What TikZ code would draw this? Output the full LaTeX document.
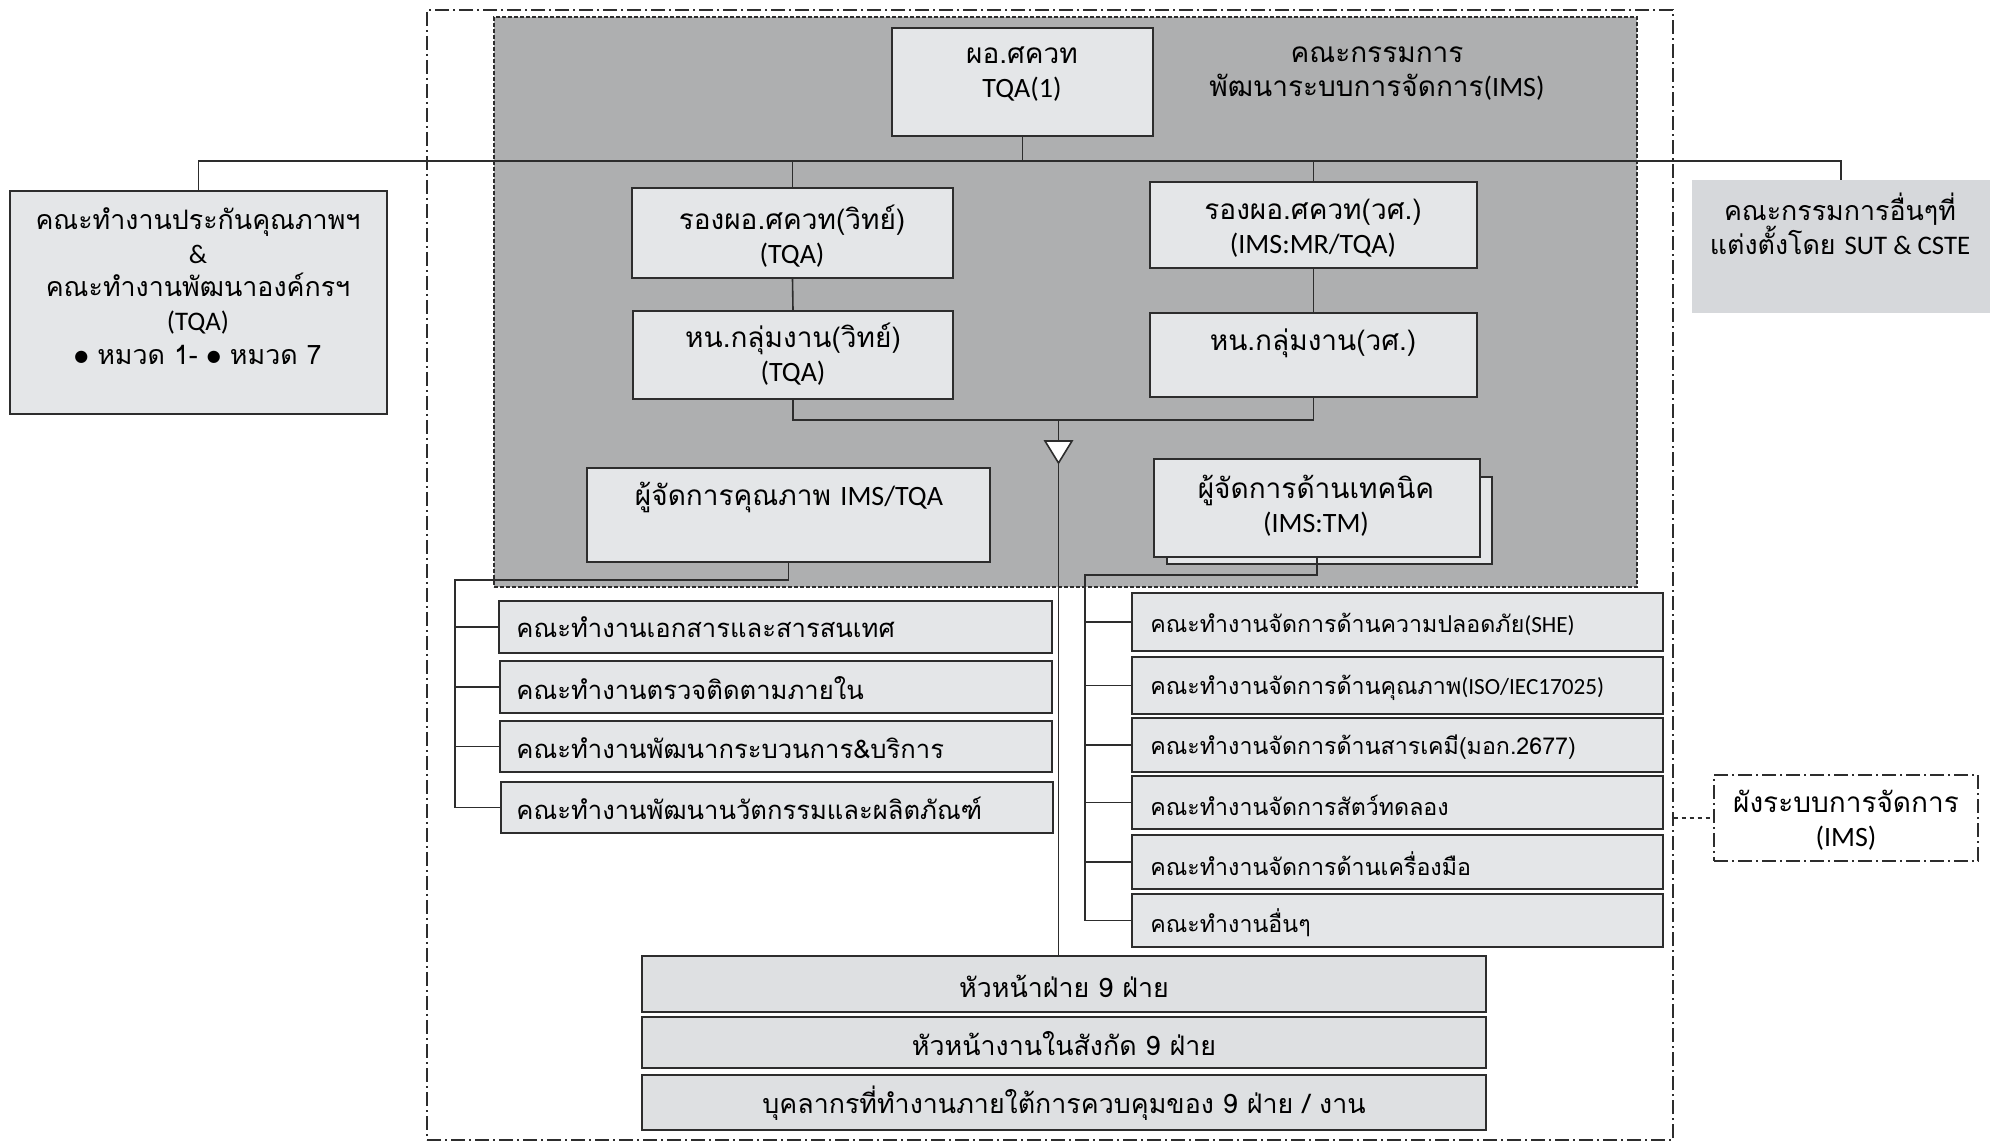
\documentclass[tikz,border=0pt]{standalone}
\usepackage{fontspec}
\setmainfont{Carlito}
\newfontfamily\tf[Script=Thai]{Loma}
\newfontfamily\djv{DejaVu Sans}
\usetikzlibrary{fit}
\definecolor{greybg}{RGB}{174,175,176}
\definecolor{boxfill}{RGB}{228,230,232}
\definecolor{boxfillB}{RGB}{222,224,226}
\definecolor{rfill}{RGB}{214,216,219}
\definecolor{linec}{RGB}{45,45,45}
\newcommand\la[1]{{\rmfamily #1}}
\newcommand\bul{\raisebox{1.2pt}{\djv\fontsize{8}{8}\selectfont ●}}
\begin{document}
\begin{tikzpicture}[x=0.5pt,y=-0.5pt,
  box/.style={draw=linec, line width=1.1pt, fill=boxfill, inner sep=0pt},
  boxB/.style={box, fill=boxfillB},
  conn/.style={draw=linec, line width=0.8pt},
  lbl/.style={inner sep=0pt, align=center, font=\tf\fontsize{14}{17}\selectfont},
  lstA/.style={inner sep=0pt, anchor=west, font=\tf\fontsize{12.8}{15}\selectfont},
  lstC/.style={inner sep=0pt, anchor=west, font=\tf\fontsize{11.6}{14}\selectfont},
  dashdot/.style={dash pattern=on 7pt off 2pt on 1pt off 2pt}
]
\useasboundingbox (0,0) rectangle (1998,1143);
\fill[white] (0,0) rectangle (1998,1143);

% outer frame and grey committee area
\node[draw=linec, line width=0.6pt, dashdot, inner sep=0pt, fit={(427,10) (1673,1140)}] (outer) {};
\node[draw=linec, line width=0.6pt, dash pattern=on 2pt off 1pt, fill=greybg, inner sep=0pt, fit={(494,17) (1637,587)}] (grey) {};

% boxes
\node[box, fit={(892,28) (1153,136)}] (top) {};
\node[box, fit={(10,191) (387,414)}] (L) {};
\node[draw=none, fill=rfill, inner sep=0pt, fit={(1692,180) (1990,313)}] (R) {};
\node[box, fit={(632,188) (953,278)}] (VL) {};
\node[box, fit={(633,311) (953,399)}] (HL) {};
\node[box, fit={(1150,182) (1477,268)}] (VR) {};
\node[box, fit={(1150,313) (1477,397)}] (HR) {};
\node[box, fit={(587,468) (990,562)}] (qm) {};
\node[box, fit={(1167,477) (1492,564)}] (tmb) {};
\node[box, fit={(1154,459) (1480,557)}] (tm) {};

\node[box, fit={(499,601) (1052,653)}] (A1) {};
\node[box, fit={(500,661) (1052,713)}] (A2) {};
\node[box, fit={(500,721) (1052,772)}] (A3) {};
\node[box, fit={(501,782) (1053,833)}] (A4) {};

\node[box, fit={(1132,593) (1663,651)}] (C1) {};
\node[box, fit={(1132,657) (1663,714)}] (C2) {};
\node[box, fit={(1132,718) (1663,772)}] (C3) {};
\node[box, fit={(1132,776) (1663,829)}] (C4) {};
\node[box, fit={(1132,835) (1663,889)}] (C5) {};
\node[box, fit={(1132,894) (1663,947)}] (C6) {};

\node[boxB, fit={(642,956) (1486,1012)}] (B1) {};
\node[boxB, fit={(642,1017) (1486,1068)}] (B2) {};
\node[boxB, fit={(642,1075) (1486,1130)}] (B3) {};

\node[draw=linec, line width=0.6pt, dashdot, inner sep=0pt, fit={(1714,775) (1978,861)}] (ims) {};

% connectors
\coordinate (yMain) at (0,161);
\coordinate (yJoin) at (0,420);
\draw[conn] (L.north) -- (L.north |- yMain) -- (R.north |- yMain) -- (R.north);
\draw[conn] (top.south) -- (top.south |- yMain);
\draw[conn] (VL.north |- yMain) -- (VL.north);
\draw[conn] (VR.north |- yMain) -- (VR.north);
\draw[conn] (VL.south) -- (HL.north);
\draw[conn] (VR.south) -- (HR.north);
\draw[conn] (HL.south) -- (HL.south |- yJoin) -- (HR.south |- yJoin) -- (HR.south);
\coordinate (triT) at (1058.5,441);
\coordinate (triB) at (1058.5,463);
\draw[conn] (triT |- yJoin) -- (triT);
\draw[conn, fill=white] (1045,441) -- (1072,441) -- (triB) -- cycle;
\draw[conn] (triB) -- (triB |- B1.north);

\coordinate (lb) at (455,580);
\draw[conn] (qm.south) -- (qm.south |- lb) -- (lb) -- (lb |- A4.west) -- (A4.west);
\foreach \n in {A1,A2,A3} \draw[conn] (lb |- \n.west) -- (\n.west);

\coordinate (rb) at (1085,575);
\draw[conn] (tm.south) -- (tm.south |- rb) -- (rb) -- (rb |- C6.west) -- (C6.west);
\foreach \n in {C1,C2,C3,C4,C5} \draw[conn] (rb |- \n.west) -- (\n.west);

\draw[conn, line width=0.6pt, dash pattern=on 2pt off 2pt] (outer.east |- ims.west) -- (ims.west);

% texts
\node[lbl] (tTop) at (1022,74) {ผอ.ศควท\\\la{TQA(1)}};
\node[lbl] (tTitle) at (1377,74) {คณะกรรมการ\\พัฒนาระบบการจัดการ\la{(IMS)}};
\node[lbl, font=\tf\fontsize{13.4}{16.8}\selectfont] (tL) at (198,286) {คณะทำงานประกันคุณภาพฯ\\\la{\&}\\คณะทำงานพัฒนาองค์กรฯ\\\la{(TQA)}\\\bul\ หมวด 1- \bul\ หมวด 7};
\node[lbl, font=\tf\fontsize{13.4}{17}\selectfont] (tR) at (1840,224) {คณะกรรมการอื่นๆที่\\แต่งตั้งโดย \la{SUT \& CSTE}};
\node[lbl] (tVL) at (792,236) {รองผอ.ศควท(วิทย์)\\\la{(TQA)}};
\node[lbl] (tHL) at (793,354) {หน.กลุ่มงาน(วิทย์)\\\la{(TQA)}};
\node[lbl] (tVR) at (1313,228) {รองผอ.ศควท(วศ.)\\\la{(IMS:MR/TQA)}};
\node[lbl] (tHR) at (1313,343) {หน.กลุ่มงาน(วศ.)};
\node[lbl] (tQM) at (789,497) {ผู้จัดการคุณภาพ \la{IMS/TQA}};
\node[lbl] (tTM) at (1316,506) {ผู้จัดการด้านเทคนิค\\\la{(IMS:TM)}};

\node[lstA] (tA1) at (516,627) {คณะทำงานเอกสารและสารสนเทศ};
\node[lstA] (tA2) at (516,688) {คณะทำงานตรวจติดตามภายใน};
\node[lstA] (tA3) at (516,748) {คณะทำงานพัฒนากระบวนการ\&บริการ};
\node[lstA] (tA4) at (516,808) {คณะทำงานพัฒนานวัตกรรมและผลิตภัณฑ์};

\node[lstC] (tC1) at (1150,624) {คณะทำงานจัดการด้านความปลอดภัย\la{(SHE)}};
\node[lstC] (tC2) at (1150,688) {คณะทำงานจัดการด้านคุณภาพ\la{(ISO/IEC17025)}};
\node[lstC] (tC3) at (1150,747) {คณะทำงานจัดการด้านสารเคมี(มอก.2677)};
\node[lstC] (tC4) at (1150,805) {คณะทำงานจัดการสัตว์ทดลอง};
\node[lstC] (tC5) at (1150,864) {คณะทำงานจัดการด้านเครื่องมือ};
\node[lstC] (tC6) at (1150,923) {คณะทำงานอื่นๆ};

\node[lbl, font=\tf\fontsize{13.4}{16}\selectfont] (tB1) at (1064,986) {หัวหน้าฝ่าย 9 ฝ่าย};
\node[lbl, font=\tf\fontsize{13.4}{16}\selectfont] (tB2) at (1064,1044) {หัวหน้างานในสังกัด 9 ฝ่าย};
\node[lbl, font=\tf\fontsize{13.4}{16}\selectfont] (tB3) at (1064,1103) {บุคลากรที่ทำงานภายใต้การควบคุมของ 9 ฝ่าย / งาน};

\node[lbl] (tIMS) at (1846,820) {ผังระบบการจัดการ\\\la{(IMS)}};
\end{tikzpicture}
\end{document}
